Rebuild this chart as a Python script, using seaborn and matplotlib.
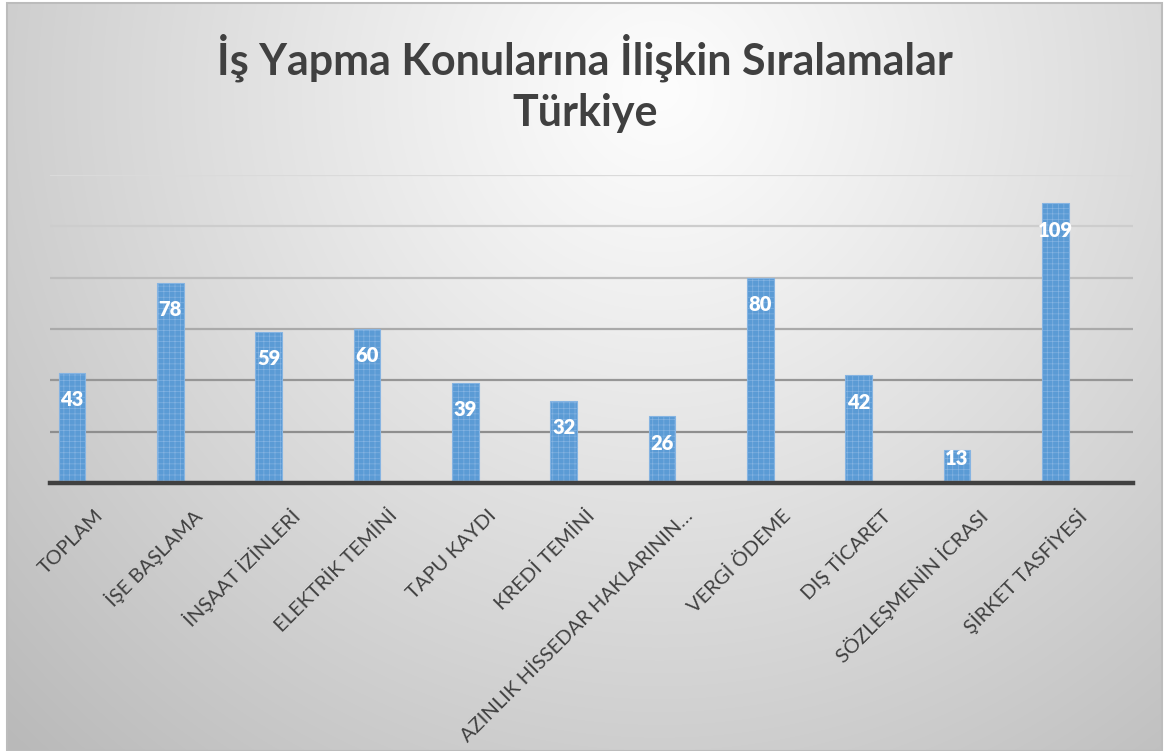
import numpy as np
import pandas as pd
import matplotlib
matplotlib.use("Agg")
import matplotlib.pyplot as plt
import matplotlib.transforms as mtransforms
from matplotlib.patches import Rectangle
import seaborn as sns

# ---- data ----
categories = ["TOPLAM", "İŞE BAŞLAMA", "İNŞAAT İZİNLERİ", "ELEKTRİK TEMİNİ",
              "TAPU KAYDI", "KREDİ TEMİNİ", "AZINLIK HİSSEDAR HAKLARININ…",
              "VERGİ ÖDEME", "DIŞ TİCARET", "SÖZLEŞMENİN İCRASI", "ŞİRKET TASFİYESİ"]
values = [43, 78, 59, 60, 39, 32, 26, 80, 42, 13, 109]
title_lines = ["İş Yapma Konularına İlişkin Sıralamalar", "Türkiye"]
y_ticks = [0, 20, 40, 60, 80, 100, 120]

sns.set_theme(style="white")
plt.rcParams['font.family'] = ['Lato', 'DejaVu Sans']
plt.rcParams['hatch.linewidth'] = 0.45

W, H = 1173, 751
fig = plt.figure(figsize=(W / 100, H / 100), dpi=100)
fig.patch.set_facecolor("white")

# ---- background gradient panel ----
bg = fig.add_axes([0, 0, 1, 1], zorder=-5)
bg.set_xlim(0, W)
bg.set_ylim(H, 0)
bg.axis("off")
x0, x1, y0, y1 = 7, 1162, 3, 751
xx, yy = np.meshgrid(np.linspace(x0, x1, 400), np.linspace(y0, y1, 300))
r = np.sqrt((xx - 660) ** 2 + (yy - 90) ** 2) / 700.0
g = np.clip(253 - 50 * r ** 1.1, 185, 253) / 255.0
img = np.dstack([g, g, g])
bg.imshow(img, extent=[x0, x1, y1, y0], aspect="auto", interpolation="bilinear")
bg.add_patch(Rectangle((x0, y0), x1 - x0, y1 - y0, fill=False,
                       edgecolor="#bcbcbc", linewidth=1.5))

# ---- main axes ----
ax = fig.add_axes([50 / W, 1 - 483 / H, 1083 / W, 308 / H])
ax.set_facecolor("none")
df = pd.DataFrame({"cat": categories, "val": values})
sns.barplot(data=df, x="cat", y="val", color="#5b9bd5", saturation=1,
            width=0.27, ax=ax, zorder=3)
for p in ax.patches:
    p.set_edgecolor("#86b4e2")
    p.set_linewidth(0.8)
    p.set_hatch("+++")

ax.set_xlim(-0.224, 10.79)
ax.set_ylim(0, 120)
ax.set_yticks(y_ticks)
ax.set_yticklabels([])
ax.set_xlabel("")
ax.set_ylabel("")
ax.yaxis.grid(True, linewidth=1.6, zorder=0)
ax.set_axisbelow(True)
grid_cols = ["#404040", "#8e8e8e", "#969696", "#aaaaaa", "#bdbdbd", "#cdcdcd", "#dadada"]
for gl, c in zip(ax.get_ygridlines(), grid_cols):
    gl.set_color(c)
for s in ["top", "right", "left"]:
    ax.spines[s].set_visible(False)
ax.spines["bottom"].set_color("#404040")
ax.spines["bottom"].set_linewidth(3.2)
ax.spines["bottom"].set_zorder(4)

ax.tick_params(axis="both", length=0, pad=0)
ax.set_xticks(range(len(categories)))
ax.set_xticklabels(categories, rotation=45, ha="right", va="center",
                   rotation_mode="anchor", fontsize=14.5, color="#404040")
offset = mtransforms.ScaledTranslation(28 / 100, -30 / 100, fig.dpi_scale_trans)
for lbl in ax.get_xticklabels():
    lbl.set_transform(lbl.get_transform() + offset)

# ---- data labels (inside end) ----
for i, v in enumerate(values):
    pad = 27 if v >= 20 else 9
    ax.annotate(str(v), xy=(i, v), xytext=(0, -pad), textcoords="offset pixels",
                ha="center", va="center", color="white", fontweight="heavy",
                fontsize=14.5, zorder=5)

# ---- title ----
fig.text(585 / W, 1 - 58 / H, title_lines[0], ha="center", va="center",
         fontsize=31, fontweight="bold", color="#404040")
fig.text(585 / W, 1 - 113 / H, title_lines[1], ha="center", va="center",
         fontsize=31, fontweight="bold", color="#404040")

fig.savefig("out.png", dpi=100)
